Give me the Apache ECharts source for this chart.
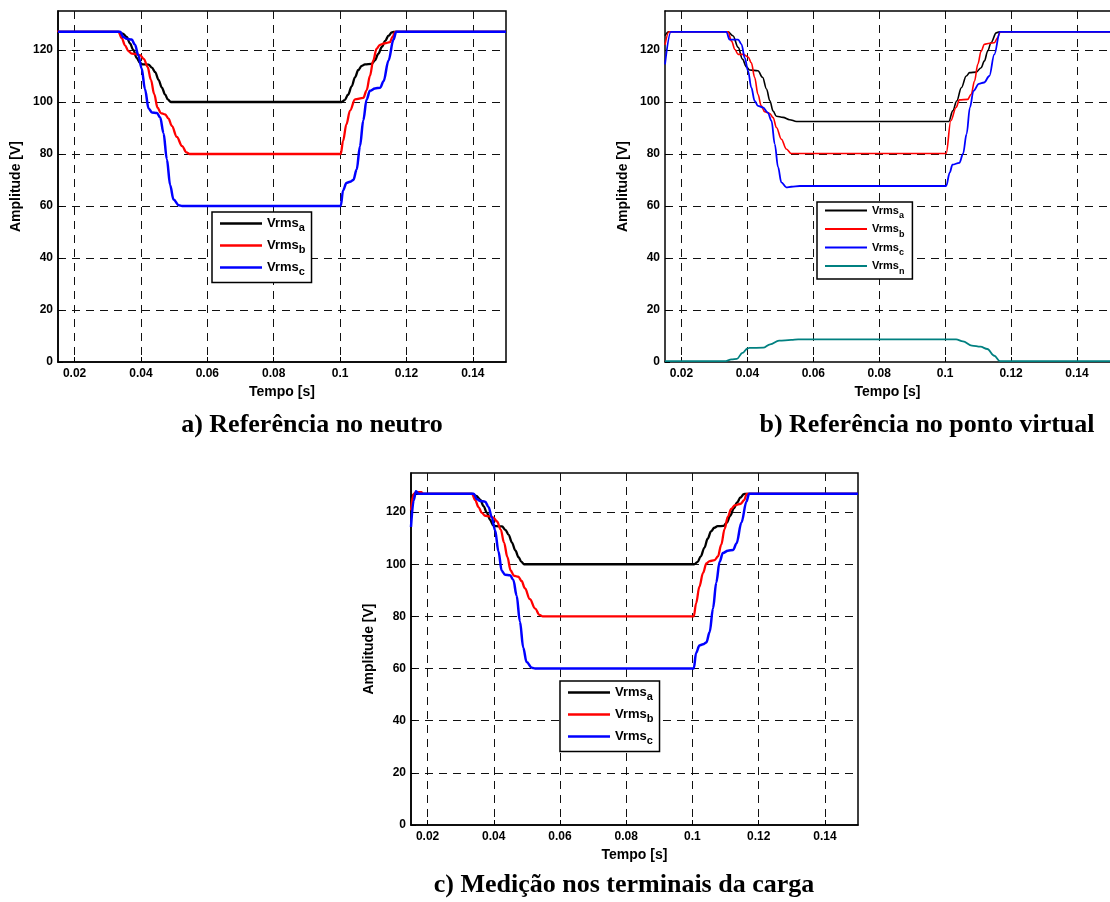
<!DOCTYPE html>
<html>
<head>
<meta charset="utf-8">
<script src="https://cdn.jsdelivr.net/npm/echarts@6/dist/echarts.min.js"></script>
<style>
  html, body { margin: 0; padding: 0; background: #fff; }
  #main { width: 1110px; height: 902px; }
</style>
</head>
<body>
<div id="main"></div>
<script>
// tick labels / captions
const yTicks = [0, 20, 40, 60, 80, 100, 120];
const captions = ['a) Referência no neutro', 'b) Referência no ponto virtual', 'c) Medição nos terminais da carga'];

// a) referencia no neutro  [tempo (s), Vrms (V)]
const aVa = [[0.015,127],[0.0332,127],[0.0345,126.3],[0.0357,125],[0.0367,122.5],[0.0377,120],[0.0387,117],[0.0397,115],[0.0405,114.5],[0.0423,114.4],[0.0433,113.2],[0.0443,111.5],[0.0453,108.5],[0.0463,105.5],[0.0473,102.8],[0.0481,101],[0.049,100],[0.1004,100],[0.1014,100.7],[0.1024,102.8],[0.1035,106],[0.1045,109.5],[0.1055,112.3],[0.1065,113.9],[0.1075,114.5],[0.1095,114.7],[0.1105,116],[0.1115,118.5],[0.1126,121.2],[0.1136,123.5],[0.1146,125.5],[0.1156,126.8],[0.1162,127],[0.15,127]];
const aVb = [[0.015,127.5],[0.0152,127],[0.0332,127],[0.0342,124.6],[0.0352,121.8],[0.0362,119.6],[0.0372,118.6],[0.0387,118.4],[0.0397,118],[0.0409,116.5],[0.042,113.5],[0.043,108.5],[0.044,103],[0.045,97.8],[0.046,95.7],[0.0473,95.2],[0.0483,93.6],[0.0493,90.8],[0.0508,86.6],[0.0524,83],[0.0537,80.6],[0.0547,80],[0.1002,80],[0.1009,85],[0.1019,91.4],[0.103,96.7],[0.1045,101],[0.107,101.6],[0.108,104.5],[0.109,110],[0.11,116],[0.111,120.5],[0.112,122],[0.1135,122.6],[0.115,123],[0.1158,125],[0.1166,127],[0.15,127]];
const aVc = [[0.015,127],[0.0337,127],[0.0347,125],[0.0357,124.3],[0.0372,124],[0.0382,122],[0.0392,118],[0.0402,113],[0.0412,105],[0.0423,97.5],[0.0433,96],[0.0448,95.8],[0.0458,94],[0.0468,88],[0.0478,78],[0.0488,68],[0.0498,62.5],[0.0514,60.3],[0.0524,60],[0.1002,60],[0.1009,66],[0.1019,68.8],[0.103,69.3],[0.104,70],[0.105,74],[0.106,83],[0.107,93],[0.108,101],[0.109,104.3],[0.1105,105.2],[0.1121,105.5],[0.1131,108],[0.1146,116],[0.1161,124],[0.1169,127],[0.15,127]];

// b) referencia no ponto virtual
const bVa = [[0.015,125.5],[0.0161,127],[0.0341,127],[0.0356,125.5],[0.0372,121],[0.0385,116.5],[0.0397,113.5],[0.0407,112.3],[0.0432,112],[0.0446,109.5],[0.0458,105],[0.0468,100.5],[0.0478,96.5],[0.0488,94.5],[0.0508,94.1],[0.0528,93.2],[0.0549,92.5],[0.1011,92.5],[0.1023,96.6],[0.1035,100.4],[0.1049,105.5],[0.1064,110],[0.1074,111.3],[0.1094,111.5],[0.1109,113.2],[0.1119,115.8],[0.1129,119.6],[0.1139,122.8],[0.1155,126.6],[0.1165,127],[0.15,127]];
const bVb = [[0.015,122],[0.0162,127],[0.0341,127],[0.0352,123.4],[0.0362,120.2],[0.0372,118.3],[0.0387,118.3],[0.0402,117.3],[0.0412,115.1],[0.0422,109.4],[0.0432,103],[0.0442,98.5],[0.0452,96.3],[0.0468,95.6],[0.0478,94],[0.0488,90.2],[0.0503,85.7],[0.0518,81.9],[0.0533,80.2],[0.1003,80.2],[0.1017,92.8],[0.1033,97.9],[0.1043,100.8],[0.1068,101],[0.1079,103],[0.1089,108.1],[0.1099,114.5],[0.1109,119.6],[0.1119,122.2],[0.1134,122.6],[0.1149,122.8],[0.1159,124.7],[0.1167,127],[0.15,127]];
const bVc = [[0.015,114.5],[0.0168,127],[0.0336,127],[0.0346,124],[0.0372,124],[0.0382,122.2],[0.0392,117],[0.0402,111.9],[0.0412,105.5],[0.0422,100.4],[0.0432,98.5],[0.0447,97.9],[0.0462,95.9],[0.0473,92.8],[0.0483,83.8],[0.0493,74.9],[0.0503,69.1],[0.0518,67.2],[0.0533,67.4],[0.0559,67.7],[0.1003,67.7],[0.1014,72.9],[0.1022,75.9],[0.1043,76.6],[0.1054,80],[0.1065,87.7],[0.1075,97.9],[0.1086,104.3],[0.1102,107],[0.1118,107.5],[0.1134,110],[0.1149,118.3],[0.1166,127],[0.15,127]];
const bVn = [[0.015,0.3],[0.0331,0.3],[0.0352,1],[0.0368,1.2],[0.0385,3.5],[0.04,5.2],[0.0406,5.4],[0.0448,5.5],[0.0469,6.8],[0.0496,8.2],[0.0533,8.5],[0.0554,8.7],[0.1033,8.7],[0.1054,7.9],[0.1081,6.3],[0.1107,5.9],[0.1128,5],[0.1149,2.4],[0.1166,0.3],[0.15,0.3]];

// c) medicao nos terminais da carga
const cVa = [[0.015,125.5],[0.0163,127],[0.0334,127],[0.0347,126.2],[0.0359,124.8],[0.0369,122.3],[0.0379,119.8],[0.0389,117],[0.0398,115],[0.0407,114.6],[0.0425,114.5],[0.0435,113.2],[0.0445,111.3],[0.0455,108.3],[0.0465,105.3],[0.0475,102.7],[0.0483,101],[0.0491,100],[0.1005,100],[0.1015,100.8],[0.1025,103],[0.1036,106.3],[0.1046,109.8],[0.1056,112.6],[0.1066,114],[0.1076,114.6],[0.1094,114.7],[0.1104,116],[0.1114,118.6],[0.1125,121.4],[0.1135,123.7],[0.1145,125.6],[0.1155,126.9],[0.1162,127],[0.15,127]];
const cVb = [[0.015,120.7],[0.0158,127],[0.0166,127.7],[0.0181,127.7],[0.0186,127],[0.0334,127],[0.0344,124.6],[0.0354,121.9],[0.0364,119.7],[0.0374,118.6],[0.0389,118.4],[0.0399,117.9],[0.041,116.4],[0.0421,113.3],[0.0431,108.3],[0.0441,102.8],[0.0451,97.6],[0.0461,95.6],[0.0474,95.2],[0.0484,93.6],[0.0494,90.8],[0.0509,86.6],[0.0525,83],[0.0538,80.6],[0.0548,80],[0.1004,80],[0.1011,85],[0.1021,91.4],[0.1032,96.7],[0.1042,100.3],[0.1052,101.2],[0.1067,101.6],[0.1077,103],[0.1087,107.5],[0.1097,113.5],[0.1107,118.3],[0.1117,121.2],[0.1128,122.6],[0.1146,123.2],[0.1156,124.6],[0.1164,127],[0.15,127]];
const cVc = [[0.015,114.3],[0.0158,124.5],[0.0165,128],[0.0173,127],[0.0339,127],[0.0349,125],[0.0359,124.3],[0.0374,124],[0.0384,122],[0.0394,118],[0.0404,113],[0.0414,105],[0.0424,97.5],[0.0434,96],[0.0449,95.8],[0.0459,94],[0.0469,88],[0.0479,78],[0.0489,68],[0.0499,62.5],[0.0515,60.3],[0.0525,60],[0.1004,60],[0.1011,66],[0.1021,68.8],[0.1032,69.3],[0.1042,70],[0.1052,74],[0.1062,83],[0.1072,93],[0.1082,101],[0.1092,104.3],[0.1107,105.2],[0.1123,105.5],[0.1133,108],[0.1148,116],[0.1163,124],[0.1171,127],[0.15,127]];

const colors = { Vrms_a: '#000000', Vrms_b: '#ff0000', Vrms_c: '#0000ff', Vrms_n: '#008080' };
const sans = '"Liberation Sans", Arial, sans-serif';
const serif = '"Liberation Serif", "Times New Roman", serif';

// plot boxes (px); panel b runs past the right edge of the page
const boxes = [
  { left: 58, top: 11, width: 448, height: 351 },
  { left: 665, top: 11, width: 448, height: 351 },
  { left: 411, top: 473, width: 447, height: 352 }
];

const chart = echarts.init(document.getElementById('main'), null, { renderer: 'canvas' });

function xAx(i) {
  return {
    type: 'value', gridIndex: i, min: 0.015, max: 0.15, splitNumber: 7,
    name: 'Tempo [s]', nameLocation: 'middle', nameGap: 23,
    nameTextStyle: { fontFamily: sans, fontWeight: 'bold', fontSize: 14, color: '#000' },
    axisLine: { show: true, lineStyle: { color: '#000', width: 1.5 } },
    axisTick: { show: true, inside: true, length: 5, lineStyle: { color: '#000' } },
    axisLabel: {
      showMinLabel: false, showMaxLabel: false, margin: 6,
      fontFamily: sans, fontWeight: 'bold', fontSize: 12, color: '#000',
      formatter: v => String(Math.round(v * 1000) / 1000)
    },
    splitLine: { show: true, showMinLine: false, showMaxLine: false,
      lineStyle: { color: '#111', width: 1, type: [8, 6] } }
  };
}
// bare top edge for panel b (its box border is switched off)
function topEdge(i) {
  return {
    type: 'value', gridIndex: i, position: 'top', min: 0.015, max: 0.15,
    axisLine: { show: true, onZero: false, lineStyle: { color: '#000', width: 1.5 } },
    axisTick: { show: false }, axisLabel: { show: false }, splitLine: { show: false }
  };
}
function yAx(i) {
  return {
    type: 'value', gridIndex: i, min: 0, max: 135, interval: 20,
    name: 'Amplitude [V]', nameLocation: 'middle', nameGap: 35,
    nameTextStyle: { fontFamily: sans, fontWeight: 'bold', fontSize: 14, color: '#000' },
    axisLine: { show: true, lineStyle: { color: '#000', width: 1.5 } },
    axisTick: { show: true, inside: true, length: 5, lineStyle: { color: '#000' } },
    axisLabel: {
      showMaxLabel: false, margin: 5,
      fontFamily: sans, fontWeight: 'bold', fontSize: 12, color: '#000',
      formatter: v => (yTicks.indexOf(v) >= 0 ? String(v) : '')
    },
    splitLine: { show: true, showMinLine: false, showMaxLine: false,
      lineStyle: { color: '#111', width: 1, type: [8, 6] } }
  };
}
function line(name, data, i, w) {
  return {
    type: 'line', name: name, data: data, xAxisIndex: i, yAxisIndex: i,
    showSymbol: false, symbol: 'none', smooth: 0.35, smoothMonotone: 'x',
    lineStyle: { color: colors[name], width: w }, itemStyle: { color: colors[name] },
    emphasis: { disabled: true }, animation: false
  };
}
function legend(left, top, names, big) {
  const fs = big ? 13 : 11;
  return {
    left: left, top: top, orient: 'vertical', data: names,
    icon: 'rect', itemWidth: 42, itemHeight: big ? 2.5 : 2, itemGap: big ? 5.5 : 3,
    padding: big ? [5, 6, 5, 8] : [3, 8, 3, 8],
    backgroundColor: '#fff', borderColor: '#000', borderWidth: 1.5, borderRadius: 0,
    selectedMode: false,
    formatter: n => '{m|Vrms}{s|' + n.split('_')[1] + '}',
    textStyle: {
      rich: {
        m: { fontFamily: sans, fontWeight: 'bold', fontSize: fs, color: '#000', lineHeight: 20 },
        s: { fontFamily: sans, fontWeight: 'bold', fontSize: fs - 2, color: '#000', lineHeight: 10, verticalAlign: 'bottom' }
      }
    }
  };
}

const option = {
  backgroundColor: '#fff',
  animation: false,
  grid: boxes.map((b, i) => Object.assign({ show: i !== 1, borderColor: '#000', borderWidth: 1.5, containLabel: false }, b)),
  xAxis: [xAx(0), xAx(1), xAx(2), topEdge(1)],
  yAxis: [yAx(0), yAx(1), yAx(2)],
  legend: [
    legend(212, 212, ['Vrms_a', 'Vrms_b', 'Vrms_c'], true),
    legend(817, 202, ['Vrms_a', 'Vrms_b', 'Vrms_c', 'Vrms_n'], false),
    legend(560, 681, ['Vrms_a', 'Vrms_b', 'Vrms_c'], true)
  ],
  series: [
    line('Vrms_a', aVa, 0, 2.3), line('Vrms_b', aVb, 0, 2.3), line('Vrms_c', aVc, 0, 2.5),
    line('Vrms_a', bVa, 1, 1.6), line('Vrms_b', bVb, 1, 1.6), line('Vrms_c', bVc, 1, 1.8), line('Vrms_n', bVn, 1, 1.8),
    line('Vrms_a', cVa, 2, 2.3), line('Vrms_b', cVb, 2, 2.3), line('Vrms_c', cVc, 2, 2.5)
  ],
  graphic: [
    { type: 'text', x: 312, y: 425, style: { text: captions[0], font: 'bold 26px ' + serif, fill: '#000', align: 'center', verticalAlign: 'middle' } },
    { type: 'text', x: 927, y: 425, style: { text: captions[1], font: 'bold 26px ' + serif, fill: '#000', align: 'center', verticalAlign: 'middle' } },
    { type: 'text', x: 624, y: 885, style: { text: captions[2], font: 'bold 26px ' + serif, fill: '#000', align: 'center', verticalAlign: 'middle' } }
  ]
};

chart.setOption(option);
</script>
</body>
</html>
